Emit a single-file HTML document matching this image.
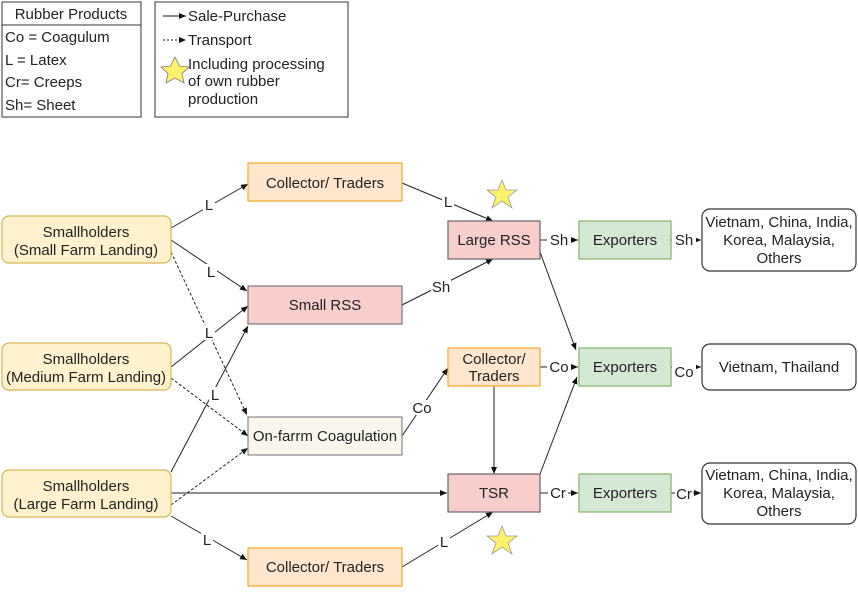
<!DOCTYPE html>
<html><head><style>
body{margin:0;background:#fff;}
svg text{font-family:"Liberation Sans",Arial,sans-serif;}
</style></head><body>
<svg width="858" height="588" viewBox="0 0 858 588" xmlns="http://www.w3.org/2000/svg">
<defs>
<marker id="a" markerWidth="8" markerHeight="8" refX="7" refY="4" orient="auto" markerUnits="userSpaceOnUse"><path d="M0,1 L7,4 L0,7 Z" fill="#111"/></marker>
</defs>
<rect x="2" y="2" width="139" height="115" fill="#fff" stroke="#333"/>
<line x1="2" y1="25" x2="141" y2="25" stroke="#333"/>
<g font-size="15" fill="#222">
<text x="71" y="19" text-anchor="middle">Rubber Products</text>
<text x="5" y="42">Co = Coagulum</text>
<text x="5" y="65">L = Latex</text>
<text x="5" y="87">Cr= Creeps</text>
<text x="5" y="110">Sh= Sheet</text>
</g>
<rect x="155" y="2" width="193" height="115" fill="#fff" stroke="#333"/>
<line x1="163" y1="16" x2="186" y2="16" stroke="#111" marker-end="url(#a)"/>
<line x1="163" y1="40" x2="186" y2="40" stroke="#111" stroke-dasharray="2,2" marker-end="url(#a)"/>
<polygon points="175,57 179.5,66 189,67 182,73.5 184,83 175,78 166,83 168,73.5 161,67 170.5,66" fill="#fff36b" stroke="#777" stroke-width="0.8"/>
<g font-size="15" fill="#222">
<text x="188" y="21">Sale-Purchase</text>
<text x="188" y="45">Transport</text>
<text x="188" y="69">Including processing</text>
<text x="188" y="86">of own rubber</text>
<text x="188" y="104">production</text>
</g>
<g stroke="#222" stroke-width="1" fill="none">
<line x1="171" y1="228" x2="248" y2="184" marker-end="url(#a)"/>
<line x1="171" y1="240" x2="247" y2="291" marker-end="url(#a)"/>
<line x1="171" y1="252" x2="247" y2="415" stroke-dasharray="3,2" marker-end="url(#a)"/>
<line x1="171" y1="367" x2="248" y2="306" marker-end="url(#a)"/>
<line x1="171" y1="378" x2="248" y2="436" stroke-dasharray="3,2" marker-end="url(#a)"/>
<line x1="171" y1="472" x2="248" y2="326" marker-end="url(#a)"/>
<line x1="171" y1="505" x2="248" y2="448" stroke-dasharray="3,2" marker-end="url(#a)"/>
<line x1="171" y1="493" x2="447" y2="493" marker-end="url(#a)"/>
<line x1="171" y1="516" x2="247" y2="560" marker-end="url(#a)"/>
<line x1="402" y1="183" x2="493" y2="221" marker-end="url(#a)"/>
<line x1="402" y1="305" x2="493" y2="259" marker-end="url(#a)"/>
<line x1="402" y1="436" x2="448" y2="368" marker-end="url(#a)"/>
<line x1="494" y1="386" x2="494" y2="474" marker-end="url(#a)"/>
<line x1="540" y1="252" x2="576" y2="350" marker-end="url(#a)"/>
<line x1="540" y1="474" x2="577" y2="377" marker-end="url(#a)"/>
<line x1="402" y1="567" x2="493" y2="512" marker-end="url(#a)"/>
<line x1="540" y1="240" x2="578" y2="240" marker-end="url(#a)"/>
<line x1="540" y1="367" x2="578" y2="367" marker-end="url(#a)"/>
<line x1="540" y1="493" x2="578" y2="493" marker-end="url(#a)"/>
<line x1="671" y1="240" x2="701" y2="240" marker-end="url(#a)"/>
<line x1="671" y1="367" x2="701" y2="367" marker-end="url(#a)"/>
<line x1="671" y1="493" x2="701" y2="493" marker-end="url(#a)"/>
</g>
<g font-size="15" fill="#222" text-anchor="middle">
<g fill="#fff" stroke="none">
<rect x="203" y="197" width="12" height="15"/><rect x="205" y="264" width="12" height="15"/>
<rect x="203" y="325" width="12" height="15"/><rect x="209" y="387" width="12" height="15"/>
<rect x="201" y="532" width="12" height="15"/><rect x="442" y="194" width="12" height="15"/>
<rect x="431" y="279" width="20" height="15"/><rect x="412" y="400" width="20" height="15"/>
<rect x="438" y="534" width="12" height="15"/>
<rect x="547" y="233" width="24" height="15"/><rect x="547" y="360" width="24" height="15"/><rect x="548" y="486" width="20" height="15"/>
<rect x="672" y="233" width="24" height="15"/><rect x="672" y="362" width="24" height="15"/><rect x="675" y="486" width="18" height="15"/>
</g>
<text x="209" y="210">L</text><text x="211" y="277">L</text><text x="209" y="338">L</text><text x="215" y="400">L</text>
<text x="207" y="545">L</text><text x="448" y="207">L</text><text x="441" y="292">Sh</text><text x="422" y="413">Co</text>
<text x="444" y="547">L</text>
<text x="559" y="245">Sh</text><text x="559" y="372">Co</text><text x="558" y="498">Cr</text>
<text x="684" y="245">Sh</text><text x="684" y="377">Co</text><text x="684" y="499">Cr</text>
</g>
<g stroke-width="1.2">
<rect x="2" y="216" width="169" height="47" rx="7" fill="#fff2cc" stroke="#d6b656"/>
<rect x="2" y="343" width="169" height="47" rx="7" fill="#fff2cc" stroke="#d6b656"/>
<rect x="2" y="470" width="169" height="47" rx="7" fill="#fff2cc" stroke="#d6b656"/>
<rect x="248" y="163" width="154" height="38" fill="#ffe6cc" stroke="#f5a623"/>
<rect x="248" y="286" width="154" height="38" fill="#f8cecc" stroke="#777"/>
<rect x="248" y="417" width="154" height="38" fill="#f9f7ed" stroke="#888"/>
<rect x="248" y="548" width="154" height="38" fill="#ffe6cc" stroke="#f5a623"/>
<rect x="448" y="221" width="92" height="38" fill="#f8cecc" stroke="#666"/>
<rect x="448" y="348" width="92" height="38" fill="#ffe6cc" stroke="#f5a623"/>
<rect x="448" y="474" width="92" height="38" fill="#f8cecc" stroke="#666"/>
<rect x="579" y="221" width="92" height="38" fill="#d5e8d4" stroke="#82b366"/>
<rect x="579" y="348" width="92" height="38" fill="#d5e8d4" stroke="#82b366"/>
<rect x="579" y="474" width="92" height="38" fill="#d5e8d4" stroke="#82b366"/>
<rect x="702" y="209" width="154" height="62" rx="8" fill="#fff" stroke="#333"/>
<rect x="702" y="344" width="154" height="46" rx="8" fill="#fff" stroke="#333"/>
<rect x="702" y="463" width="154" height="61" rx="8" fill="#fff" stroke="#333"/>
</g>
<polygon points="502,180 506,190 517,190 508,197 512,208 502,201 492,208 496,197 487,190 498,190" fill="#fff36b" stroke="#999" stroke-width="0.8"/>
<polygon points="502,526 506,536 517,536 508,543 512,554 502,547 492,554 496,543 487,536 498,536" fill="#fff36b" stroke="#999" stroke-width="0.8"/>
<g font-size="15" fill="#222" text-anchor="middle">
<text x="86" y="237">Smallholders</text><text x="86" y="255">(Small Farm Landing)</text>
<text x="86" y="364">Smallholders</text><text x="86" y="382">(Medium Farm Landing)</text>
<text x="86" y="491">Smallholders</text><text x="86" y="509">(Large Farm Landing)</text>
<text x="325" y="188">Collector/ Traders</text>
<text x="325" y="310">Small RSS</text>
<text x="325" y="441">On-farrm Coagulation</text>
<text x="325" y="572">Collector/ Traders</text>
<text x="494" y="245">Large RSS</text>
<text x="494" y="364">Collector/</text><text x="494" y="381">Traders</text>
<text x="494" y="498">TSR</text>
<text x="625" y="245">Exporters</text><text x="625" y="372">Exporters</text><text x="625" y="498">Exporters</text>
<text x="779" y="227">Vietnam, China, India,</text><text x="779" y="245">Korea, Malaysia,</text><text x="779" y="263">Others</text>
<text x="779" y="372">Vietnam, Thailand</text>
<text x="779" y="480">Vietnam, China, India,</text><text x="779" y="498">Korea, Malaysia,</text><text x="779" y="516">Others</text>
</g>
</svg>
</body></html>
